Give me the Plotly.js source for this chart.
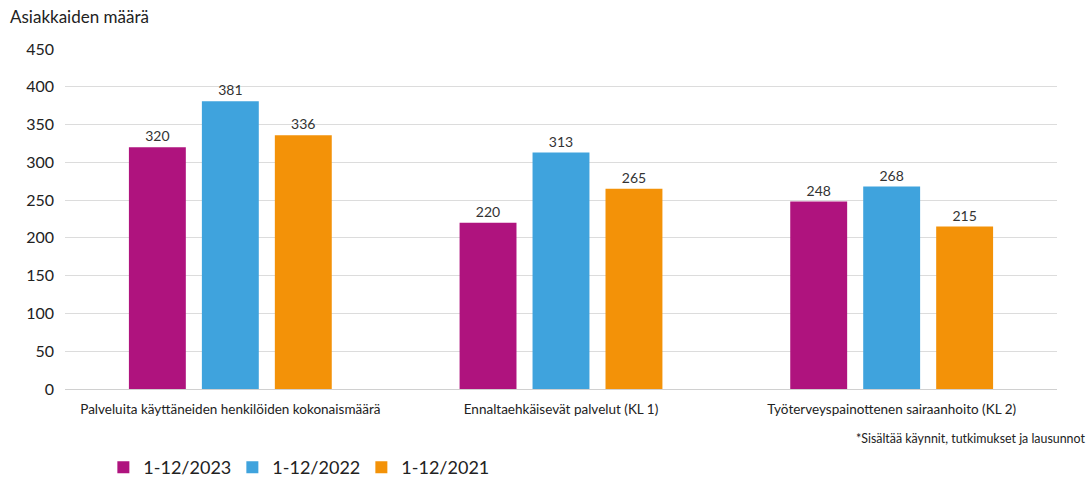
<!DOCTYPE html>
<html><head><meta charset="utf-8">
<script src="https://cdn.plot.ly/plotly-3.0.1.min.js"></script>
<style>html,body{margin:0;padding:0;background:#fff}#chart{width:1088px;height:477px}</style>
</head><body><div id="chart"></div>
<script>
const categories = ["Palveluita käyttäneiden henkilöiden kokonaismäärä", "Ennaltaehkäisevät palvelut (KL 1)", "Työterveyspainottenen sairaanhoito (KL 2)"];
const seriesNames = ["1-12/2023", "1-12/2022", "1-12/2021"];
const values2023 = [320, 220, 248];
const values2022 = [381, 313, 268];
const values2021 = [336, 265, 215];
const colors = ["#AF137E", "#3FA3DD", "#F39208"];
const yTicks = [0, 50, 100, 150, 200, 250, 300, 350, 400, 450];

const font = "Lato, 'Open Sans', sans-serif";
const allVals = [values2023, values2022, values2021];
const traces = allVals.map((v, i) => ({
  type: "bar", x: categories, y: v, name: seriesNames[i],
  marker: {color: colors[i]},
  text: v.map(String), textposition: "outside", cliponaxis: false,
  textfont: {family: font, size: 14, color: "#333"},
  hoverinfo: "none"
}));

const layout = {
  width: 1088, height: 477,
  margin: {l: 65, r: 31, t: 49, b: 88, autoexpand: false},
  paper_bgcolor: "#fff", plot_bgcolor: "#fff",
  font: {family: font, color: "#222"},
  barmode: "group", bargap: 0.338, bargroupgap: 0.22,
  xaxis: {tickfont: {size: 13.5, color: "#222"}, showline: true, linecolor: "#d0d0d0", linewidth: 1, ticks: "", ticklabelstandoff: 8, automargin: false},
  yaxis: {range: [0, 450], tickvals: yTicks, ticktext: yTicks.map(String), tickfont: {size: 16, color: "#222"},
          gridcolor: "#dcdcdc", gridwidth: 1, zeroline: false, ticklabelstandoff: 10, automargin: false},
  showlegend: true,
  legend: {orientation: "h", xref: "container", yref: "container", x: 0.095, y: 0.02, xanchor: "left", yanchor: "middle",
           font: {size: 18, color: "#222"}, itemwidth: 30, entrywidth: 84, entrywidthmode: "pixels", traceorder: "normal", bgcolor: "rgba(0,0,0,0)"},
  annotations: [
    {text: "Asiakkaiden määrä", xref: "paper", yref: "paper", x: -0.057, y: 1.095, xanchor: "left", yanchor: "middle", showarrow: false, font: {size: 17, color: "#222"}},
    {text: "*Sisältää käynnit, tutkimukset ja lausunnot", xref: "paper", yref: "paper", x: 1.030, y: -0.145, xanchor: "right", yanchor: "middle", showarrow: false, font: {size: 12.4, color: "#222"}}
  ]
};
Plotly.newPlot("chart", traces, layout, {staticPlot: true, displayModeBar: false});
</script></body></html>
